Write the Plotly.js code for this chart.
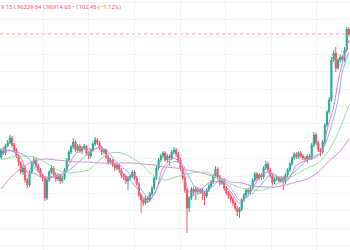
<!DOCTYPE html>
<html>
<head>
<meta charset="utf-8">
<script src="https://cdn.plot.ly/plotly-3.0.1.min.js"></script>
<style>html,body{margin:0;padding:0;background:#fff;}#chart{width:350px;height:250px;}</style>
</head>
<body>
<div id="chart"></div>
<script>
// OHLC per candle (left to right)
const openP = [
68625,70235,69545,71155,71845,72995,71385,70235,68855,67245,
65175,66095,63335,62185,65175,67245,67935,66555,65635,64485,
63795,59195,63335,65175,66095,64485,63565,64255,63105,63795,
65635,67935,69775,70925,72075,70235,71155,70005,70695,71155,
69545,68855,70235,71615,72535,71845,70695,69775,70235,68625,
67475,67935,66785,66095,66785,65635,64485,64025,63105,63795,
64255,65175,63795,62415,59885,58735,58045,59195,58735,60115,
61495,63795,66095,67935,68855,69545,67935,68855,68395,69775,
70235,69315,67935,66095,63795,61035,56895,59195,61265,60575,
61265,60575,61035,60345,59655,61035,61955,62875,64255,65865,
64025,62645,63335,61495,60345,59655,58965,58045,56895,55975,
56665,58735,59885,61035,60575,61495,63335,64715,63795,64485,
64025,66095,67015,65635,64255,62875,63565,63795,63105,63795,
62875,64485,65635,67015,68395,69315,68625,69545,68855,68395,
68165,68855,68395,71385,73685,71845,70235,69775,72075,75985,
78975,81735,90935,92545,89095,90935,91625,90935,93235,98017.05];
const highP = [
70695,70925,71615,72535,73685,73455,71845,70695,69315,67705,
66785,66555,63795,65635,67705,68625,68395,67015,66095,64945,
64255,63795,65635,66785,66555,65175,64945,64715,64255,66095,
68395,70235,71385,72995,72535,71615,71615,71155,71615,71385,
70005,70695,72075,73225,72995,72305,71155,70695,70465,69085,
68395,68165,67245,67245,67015,66095,64945,64485,64255,64715,
65635,65635,64255,62875,60345,59195,59655,59655,60575,61955,
64255,66555,68395,69315,70005,70005,69315,69315,70235,70925,
70695,69775,68395,66555,64255,61495,59655,61725,61725,61955,
61725,61495,61495,60805,61495,62415,63335,64715,66555,66325,
64485,63795,63795,61955,60805,60115,59425,58505,57355,57125,
59195,60345,61495,61495,61955,63795,65175,65175,64945,64945,
66555,67705,67475,66095,64715,64025,64255,64255,64255,64255,
64945,66095,67475,68855,69775,69775,70005,70005,69315,68855,
69315,69315,71845,74375,74145,72305,70695,72535,76445,79435,
82425,91625,93235,93925,91395,92315,92085,93925,98525,98469.15];
const lowP = [
68165,69085,69085,70925,71615,70925,69775,68395,66555,64715,
64485,62645,61495,61725,64715,66785,66095,64945,64025,62875,
58505,58735,62875,64715,64025,62875,63105,62415,62645,63335,
65175,67475,69315,70465,69775,69545,69545,69315,70235,69085,
68165,68395,69775,71155,71385,70235,69085,69315,68165,66785,
67015,66325,65405,65635,64945,63795,63335,62415,61035,63335,
63795,63335,61955,59425,55745,57355,57585,58045,58275,59655,
61035,63335,65635,67475,68395,67475,67245,66555,67935,69315,
68625,67245,65405,63335,60345,51145,55975,58735,59655,58735,
59885,60115,58735,57585,59195,60575,61495,62415,63795,63335,
61955,62185,60805,59885,58965,58275,57355,56205,55055,54595,
56205,58275,59425,59885,60115,61035,62875,63105,63335,63335,
63565,65635,65175,63795,62185,62415,63105,62645,62645,61035,
62415,64025,65175,66555,67935,68165,68165,68395,67935,67705,
67245,67935,67935,70925,71385,69775,68855,69315,71615,75525,
78515,81275,90475,88175,88635,90245,90475,90475,92775,96339.64];
const closeP = [
70235,69545,71155,71845,72995,71385,70235,68855,67245,65175,
66095,63335,62185,65175,67245,67935,66555,65635,64485,63795,
59195,63335,65175,66095,64485,63565,64255,63105,63795,65635,
67935,69775,70925,72075,70235,71155,70005,70695,71155,69545,
68855,70235,71615,72535,71845,70695,69775,70235,68625,67475,
67935,66785,66095,66785,65635,64485,64025,63105,63795,64255,
65175,63795,62415,59885,58735,58045,59195,58735,60115,61495,
63795,66095,67935,68855,69545,67935,68855,68395,69775,70235,
69315,67935,66095,63795,61035,56895,59195,61265,60575,61265,
60575,61035,60345,59655,61035,61955,62875,64255,65865,64025,
62645,63335,61495,60345,59655,58965,58045,56895,55975,56665,
58735,59885,61035,60575,61495,63335,64715,63795,64485,64025,
66095,67015,65635,64255,62875,63565,63795,63105,63795,62875,
64485,65635,67015,68395,69315,68625,69545,68855,68395,68165,
68855,68395,71385,73685,71845,70235,69775,72075,75985,78975,
81735,90935,92545,89095,90935,91625,90935,93235,98017.05,96914.60];

// Moving averages (candle index, value)
const maFastIdx = [0,4,9,12,15,19,24,28,33,37,42,45,48,53,58,62,67,71,74,79,83,86,91,95,100,105,109,114,118,122,126,131,135,140,144,147,149,152,154,156,159];
const maFast = [69085,70235,68395,65175,64945,63795,64025,64485,68625,70695,70235,70925,69085,66325,63795,61495,58275,61035,66095,68395,66095,60575,61035,62645,62875,60575,58045,60575,63795,65175,64025,63335,66785,67935,68625,70235,74835,80125,85875,90245,95535];
const maMidIdx = [0,7,12,16,21,26,30,35,39,44,48,53,58,62,67,69,73,77,82,85,88,91,96,100,105,109,114,120,124,129,135,141,146,150,154,156,159];
const maMid = [70235,69775,68625,65635,64025,64485,65175,67245,69085,70695,70235,67245,65175,62645,59425,59425,63335,67245,67475,64945,62185,60575,61495,63335,61495,58735,59885,62875,64945,63335,65635,68395,69545,74145,81735,88175,92775];
const maSlowIdx = [0,5,10,15,20,25,30,35,40,45,50,55,60,65,70,75,80,85,90,95,100,105,110,115,120,125,130,135,140,145,150,155,159];
const maLong = [67935,68625,68855,68625,67475,65865,64945,65175,65635,67935,69545,69545,68395,66555,64255,63335,64025,64715,65175,64945,63565,62415,61495,61035,61035,62185,63335,64715,66095,67245,70235,75295,80585];
const maSlowest = [61265,64255,66325,67705,68165,67935,67705,67475,67475,67245,67245,67245,67245,67015,66785,66325,66095,65635,65175,64485,63795,62875,62645,61955,61725,61725,62185,62875,63565,65175,67705,70005,72765];

// Legend line as it is visible in the reference (its beginning is outside the view)
const legendText = '9.15 <span style="color:#9598a1">L</span>96339.64 <span style="color:#9598a1">C</span>96914.60 −1102.45 (−1.12%)';

const idx = closeP.map((_, i) => i);
const UP = '#22ab94', DOWN = '#f7525f';

const traces = [
  {
    type: 'candlestick', x: idx, open: openP, high: highP, low: lowP, close: closeP,
    increasing: {line: {color: UP, width: 1}, fillcolor: UP},
    decreasing: {line: {color: DOWN, width: 1}, fillcolor: DOWN},
    whiskerwidth: 0, hoverinfo: 'skip'
  },
  {type: 'scatter', mode: 'lines', x: maSlowIdx, y: maSlowest, line: {color: '#de8ad6', width: 1, shape: 'spline', smoothing: 0.8}, hoverinfo: 'skip'},
  {type: 'scatter', mode: 'lines', x: maSlowIdx, y: maLong, line: {color: '#8edfa5', width: 1, shape: 'spline', smoothing: 0.8}, hoverinfo: 'skip'},
  {type: 'scatter', mode: 'lines', x: maMidIdx, y: maMid, line: {color: '#84b3f6', width: 1, shape: 'spline', smoothing: 0.8}, hoverinfo: 'skip'},
  {type: 'scatter', mode: 'lines', x: maFastIdx, y: maFast, line: {color: '#ee76b4', width: 1, shape: 'spline', smoothing: 0.8}, hoverinfo: 'skip'}
];

const lastClose = closeP[closeP.length - 1];

const layout = {
  width: 350, height: 250,
  margin: {l: 0, r: 0, t: 0, b: 0, pad: 0},
  paper_bgcolor: '#ffffff', plot_bgcolor: '#ffffff',
  showlegend: false, hovermode: false,
  xaxis: {
    range: [-0.5, 159.5], rangeslider: {visible: false},
    showgrid: true, gridcolor: '#f3f3f3', gridwidth: 1,
    tick0: 19.3, dtick: 20.85, tickmode: 'linear',
    showticklabels: false, ticks: '', zeroline: false, showline: false
  },
  yaxis: {
    range: [47235, 104735],
    showgrid: true, gridcolor: '#f3f3f3', gridwidth: 1,
    tick0: 96225, dtick: 4000, tickmode: 'linear',
    showticklabels: false, ticks: '', zeroline: false, showline: false
  },
  shapes: [{
    type: 'line', xref: 'paper', x0: 0, x1: 1, yref: 'y', y0: lastClose, y1: lastClose,
    line: {color: 'rgba(247,82,95,0.55)', width: 1, dash: 'dot'}, layer: 'below'
  }],
  annotations: [{
    xref: 'paper', yref: 'paper', x: 0, y: 0.972, xanchor: 'left', yanchor: 'middle',
    text: legendText, showarrow: false, borderpad: 0,
    font: {family: 'Roboto, "Open Sans", sans-serif', size: 5.8, color: '#f7525f'}
  }]
};

Plotly.newPlot('chart', traces, layout, {staticPlot: true, displayModeBar: false});
</script>
</body>
</html>
